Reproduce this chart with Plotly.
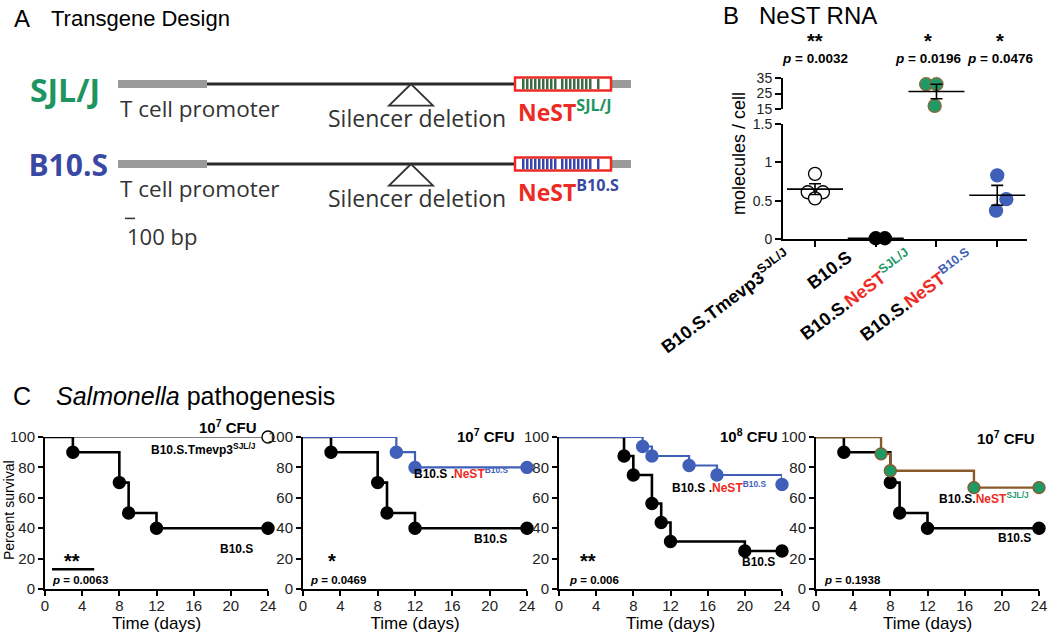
import plotly.graph_objects as go

W, H = 1050, 637
ARIAL = "Liberation Sans, Arial, sans-serif"
HUMAN = "Open Sans, Noto Sans, sans-serif"
RED = "#ee2a24"
GREEN = "#1f9a66"
BLUE = "#3f5fb8"
BROWN = "#8a5a2c"

# ---------------- Panel A: transgene constructs (bp) ----------------
a_rows = ["SJL/J", "B10.S"]
a_row_colors = ["#1e9461", "#3949a3"]
a_stripe_colors = ["#3e6b47", "#3a44ad"]
a_sup = ["SJL/J", "B10.S"]
a_promoter = [0, 890]
a_nest = [3970, 4930]
a_tail_end = 5130
a_silencer = 2930
a_stripes = [70, 110, 150, 190, 230, 270, 310, 350, 390,
             460, 500, 540, 580, 620, 660, 700, 740, 820]
a_scale = [70, 170]

# ---------------- Panel B: NeST RNA ----------------
b_labels = [
    "B10.S.Tmevp3<sup>SJL/J</sup>",
    "B10.S",
    f"B10.S.<span style='color:{RED}'>NeST</span><sup><span style='color:{GREEN}'>SJL/J</span></sup>",
    f"B10.S.<span style='color:{RED}'>NeST</span><sup><span style='color:{BLUE}'>B10.S</span></sup>",
]
b_tmevp3 = [0.85, 0.61, 0.61, 0.53]
b_tmevp3_jit = [0.0, -0.12, 0.13, 0.0]
b_b10s = [0.01, 0.01]
b_b10s_jit = [0.0, 0.15]
b_nest_sjl = [31.0, 31.0, 17.0]
b_nest_sjl_jit = [-0.17, 0.0, -0.03]
b_nest_b10 = [0.83, 0.52, 0.37]
b_nest_b10_jit = [0.0, 0.15, -0.02]
b_mean = [0.65, 0.01, 26.3, 0.57]
b_sem = [0.07, 0.0, 4.7, 0.13]
b_stars = ["**", "", "*", "*"]
b_p = ["0.0032", "", "0.0196", "0.0476"]

# ---------------- Panel C: Salmonella survival ----------------
c_b10s_days = [0, 3, 8, 9, 12, 24]
c_b10s_surv = [100, 90, 70, 50, 40, 40]
c_b10s_days_1e8 = [0, 7, 8, 10, 11, 12, 20, 24]
c_b10s_surv_1e8 = [100, 87.5, 75, 56.25, 43.75, 31.25, 25, 25]
c_tmevp3_days = [0, 24]
c_tmevp3_surv = [100, 100]
c_nestb10_days_1e7 = [0, 10, 12, 24]
c_nestb10_surv_1e7 = [100, 90, 80, 80]
c_nestb10_days_1e8 = [0, 9, 10, 14, 17, 24]
c_nestb10_surv_1e8 = [100, 93.75, 87.5, 81.25, 75, 68.75]
c_nestsjl_days = [0, 7, 8, 17, 24]
c_nestsjl_surv = [100, 88.9, 77.8, 66.7, 66.7]
c_doses = ["10<sup>7</sup> CFU", "10<sup>7</sup> CFU", "10<sup>8</sup> CFU", "10<sup>7</sup> CFU"]
c_pvals = ["0.0063", "0.0469", "0.006", "0.1938"]
c_stars = ["**", "*", "**", ""]
c_ticks = [0, 4, 8, 12, 16, 20, 24]


def px(x):
    return x / W


def py(y):
    return 1 - y / H


fig = go.Figure()
ann = []


def note(text, x, y, xref="paper", yref="paper", size=12, color="black",
         xa="left", ya="middle", family=ARIAL, angle=0):
    ann.append(dict(text=text, x=x, y=y, xref=xref, yref=yref, showarrow=False,
                    xanchor=xa, yanchor=ya, textangle=angle,
                    font=dict(size=size, color=color, family=family)))


# ---------- Panel A ----------
fig.add_trace(go.Scatter(
    x=[-180, -100], y=[0.12, 1.06], mode="text", text=[f"<b>{r}</b>" for r in a_rows],
    textposition="middle left", textfont=dict(size=[32, 30], color=a_row_colors, family=HUMAN),
    xaxis="x", yaxis="y", hoverinfo="skip"))

for r, (scol, sup, rcol) in enumerate(zip(a_stripe_colors, a_sup, a_row_colors)):
    fig.add_shape(type="rect", xref="x", yref="y", x0=a_promoter[0], x1=a_promoter[1],
                  y0=r - 0.05, y1=r + 0.05, fillcolor="#9a9a9a", line_width=0)
    fig.add_shape(type="line", xref="x", yref="y", x0=a_promoter[1], x1=a_nest[0],
                  y0=r, y1=r, line=dict(color="#2a2a2a", width=3))
    fig.add_shape(type="rect", xref="x", yref="y", x0=a_nest[1], x1=a_tail_end,
                  y0=r - 0.05, y1=r + 0.05, fillcolor="#9a9a9a", line_width=0)
    fig.add_shape(type="rect", xref="x", yref="y", x0=a_nest[0], x1=a_nest[1],
                  y0=r - 0.08, y1=r + 0.08, fillcolor="white", line=dict(color=RED, width=2.5))
    for s in a_stripes:
        fig.add_shape(type="rect", xref="x", yref="y", x0=a_nest[0] + s, x1=a_nest[0] + s + 25,
                      y0=r - 0.065, y1=r + 0.065, fillcolor=scol, line_width=0)
    fig.add_shape(type="path", xref="x", yref="y",
                  path=f"M {a_silencer},{r} L {a_silencer - 220},{r + 0.27} "
                       f"L {a_silencer + 220},{r + 0.27} Z",
                  line=dict(color="#333333", width=1.8))
    note("T cell promoter", a_promoter[0], r + 0.3, "x", "y", 22.5, "#333333", family=HUMAN)
    note("Silencer deletion", a_silencer + 60, r + 0.42, "x", "y", 23, "#333333", xa="center", family=HUMAN)
    note(f"<b>NeST<sup><span style='color:{rcol}'>{sup}</span></sup></b>", a_nest[0] + 10, r + 0.34,
         "x", "y", 23, RED, family=HUMAN)

fig.add_shape(type="line", xref="x", yref="y", x0=a_scale[0], x1=a_scale[1], y0=1.68, y1=1.68,
              line=dict(color="#333333", width=1.5))
note("100 bp", a_scale[0], 1.9, "x", "y", 22, "#333333", family=HUMAN)

note("A", px(12), py(19), size=24)
note("Transgene Design", px(49), py(19), size=22)

# ---------- Panel B ----------
def bpts(vals, jit, i, fill, edge, yax="y2"):
    fig.add_trace(go.Scatter(
        x=[i + j for j in jit], y=vals, mode="markers", xaxis="x2", yaxis=yax,
        cliponaxis=False,
        marker=dict(size=13, color=fill, opacity=1, line=dict(color=edge, width=1.3))))


bpts(b_tmevp3, b_tmevp3_jit, 0, "white", "black")
bpts(b_b10s, b_b10s_jit, 1, "black", "black")
bpts(b_nest_sjl, b_nest_sjl_jit, 2, GREEN, "#8b6b3b", "y3")
bpts(b_nest_b10, b_nest_b10_jit, 3, BLUE, BLUE)

for i, (m, s) in enumerate(zip(b_mean, b_sem)):
    fig.add_trace(go.Scatter(
        x=[i], y=[m], mode="markers", xaxis="x2", yaxis="y3" if i == 2 else "y2",
        cliponaxis=False,
        marker=dict(symbol="line-ew", size=40, line=dict(color="black", width=1.6)),
        error_y=dict(type="data", array=[s], visible=s > 0, width=6, thickness=1.6, color="black")))

b_note_dx = [0.0, 0.0, -0.14, 0.05]
for i, (st, p) in enumerate(zip(b_stars, b_p)):
    if st:
        note(f"<b>{st}</b>", i + b_note_dx[i], py(41), "x2", "paper", 20, xa="center")
    if p:
        note(f"<b><i>p</i> = {p}</b>", i + b_note_dx[i], py(58), "x2", "paper", 13.5, xa="center")

note("molecules / cell", px(739), py(154), size=18, xa="center", angle=-90)
note("B", px(721), py(15), size=24)
note("NeST RNA", px(757), py(15), size=24)

# ---------- Panel C ----------
def km(k, days, surv, color, width, fill, edge, msize=12):
    sizes = [0] + [msize] * (len(days) - 1)
    fig.add_trace(go.Scatter(
        x=days, y=surv, mode="lines+markers", line=dict(shape="hv", color=color, width=width),
        marker=dict(size=sizes, color=fill, opacity=1, line=dict(color=edge, width=1.4)),
        xaxis=f"x{3 + k}", yaxis=f"y{4 + k}", cliponaxis=False))


km(0, c_b10s_days, c_b10s_surv, "black", 2.6, "black", "black")
km(0, c_tmevp3_days, c_tmevp3_surv, "black", 1.2, "white", "black")
km(1, c_b10s_days, c_b10s_surv, "black", 2.6, "black", "black")
km(1, c_nestb10_days_1e7, c_nestb10_surv_1e7, BLUE, 2.2, BLUE, BLUE)
km(2, c_b10s_days_1e8, c_b10s_surv_1e8, "black", 2.6, "black", "black")
km(2, c_nestb10_days_1e8, c_nestb10_surv_1e8, BLUE, 2.2, BLUE, BLUE)
km(3, c_b10s_days, c_b10s_surv, "black", 2.6, "black", "black")
km(3, c_nestsjl_days, c_nestsjl_surv, BROWN, 2.4, GREEN, BROWN)

nest_b10_lbl = f"<b>B10.S .<span style='color:{RED}'>NeST</span><sup><span style='color:{BLUE}'>B10.S</span></sup></b>"
nest_sjl_lbl = f"<b>B10.S.<span style='color:{RED}'>NeST</span><sup><span style='color:{GREEN}'>SJL/J</span></sup></b>"
c_groups = [
    [("<b>B10.S.Tmevp3<sup>SJL/J</sup></b>", 22.9, 92), ("<b>B10.S</b>", 22.6, 26)],
    [(nest_b10_lbl, 22.2, 76), ("<b>B10.S</b>", 22.1, 33)],
    [(nest_b10_lbl, 22.5, 67), ("<b>B10.S</b>", 23.5, 18)],
    [(nest_sjl_lbl, 23.1, 60), ("<b>B10.S</b>", 23.4, 33.5)],
]
c_dose_pos = [(23, 426), (22.9, 435), (23.8, 435), (23.8, 437)]
c_star_x = [2.9, 3.1, 3.1, 3.0]
c_p_x = [0.5, 0.5, 0.9, 0.6]

for k in range(4):
    xr, yr = f"x{3 + k}", f"y{4 + k}"
    note(f"<b>{c_doses[k]}</b>", c_dose_pos[k][0], py(c_dose_pos[k][1]), xr, "paper", 15, xa="right")
    for txt, gx, gy in c_groups[k]:
        note(txt, gx, gy, xr, yr, 12, xa="right")
    if c_stars[k]:
        note(f"<b>{c_stars[k]}</b>", c_star_x[k], py(574), xr, "paper", 20, xa="center", ya="bottom")
    note(f"<b><i>p</i> = {c_pvals[k]}</b>", c_p_x[k], 6, xr, yr, 11.5)

fig.add_shape(type="line", xref="x3", yref="y4", x0=0.75, x1=5.3, y0=13, y1=13,
              line=dict(color="black", width=2.5))
note("Percent survival", px(9), py(510), size=14, xa="center", angle=-90)
note("C", px(11), py(396), size=25)
note("<i>Salmonella</i> pathogenesis", px(54), py(396), size=25)

# ---------- axes ----------
axis_common = dict(showgrid=False, zeroline=False, showline=True, linecolor="black",
                   ticks="outside", tickcolor="black", automargin=False)

layout = dict(
    xaxis=dict(domain=[0, px(660)], range=[-1180, 5420], visible=False),
    yaxis=dict(domain=[py(260), 1], range=[2.2, -1.05], visible=False),
    xaxis2=dict(domain=[px(783), px(1027)], range=[-0.527, 3.49], anchor="y2",
                tickvals=[0, 1, 2, 3], ticktext=b_labels, tickangle=-37,
                ticklabelshift=-28, ticklabelstandoff=-7,
                tickfont=dict(size=18, family=ARIAL, weight="bold"),
                linewidth=2, ticklen=6, tickwidth=1.5, **axis_common),
    yaxis2=dict(domain=[py(239), py(124)], range=[0, 1.5], anchor="x2",
                tickvals=[0, 0.5, 1, 1.5], ticktext=["0", "0.5", "1", "1.5"],
                tickfont=dict(size=14, family=ARIAL, color="#222222"),
                linewidth=2, ticklen=6, tickwidth=1.5, **axis_common),
    yaxis3=dict(domain=[py(109), py(78)], range=[15, 35], anchor="x2",
                tickvals=[15, 25, 35], tickfont=dict(size=14, family=ARIAL, color="#222222"),
                linewidth=2, ticklen=6, tickwidth=1.5, **axis_common),
)

c_x_dom = [(45, 268), (303, 527), (559, 782), (816, 1039)]
for k, (a, b) in enumerate(c_x_dom):
    layout[f"xaxis{3 + k}"] = dict(
        domain=[px(a), px(b)], range=[0, 24], anchor=f"y{4 + k}", tickvals=c_ticks,
        title=dict(text="Time (days)", font=dict(size=17, family=ARIAL), standoff=1),
        tickfont=dict(size=15, family=ARIAL, color="#222222"), ticklabelstandoff=-3,
        linewidth=2, ticklen=5, tickwidth=1.5, **axis_common)
    layout[f"yaxis{4 + k}"] = dict(
        domain=[py(589), py(437)], range=[0, 100], anchor=f"x{3 + k}",
        tickvals=[0, 20, 40, 60, 80, 100],
        tickfont=dict(size=15, family=ARIAL, color="#222222"),
        linewidth=2, ticklen=5, tickwidth=1.5, **axis_common)

fig.update_layout(
    width=W, height=H, margin=dict(l=0, r=0, t=0, b=0),
    paper_bgcolor="white", plot_bgcolor="white", showlegend=False,
    font=dict(family=ARIAL, color="black"),
    annotations=ann, **layout)

fig.write_html("out.html", config={"displayModeBar": False},
               post_script="document.body.style.margin='0px';")
